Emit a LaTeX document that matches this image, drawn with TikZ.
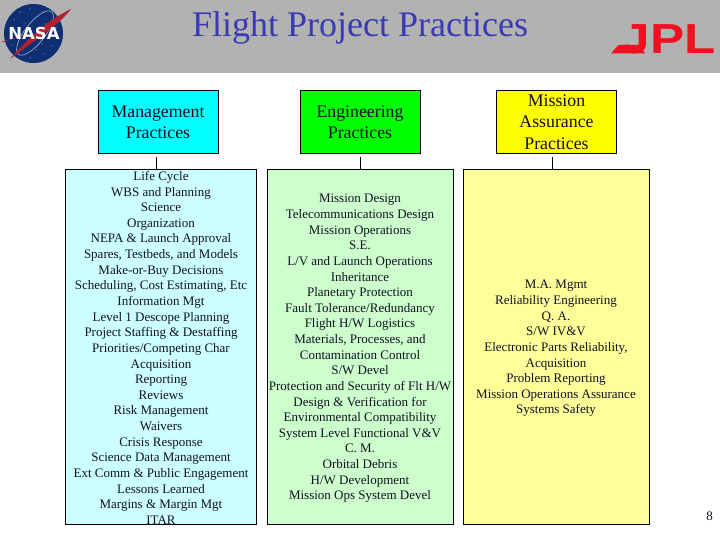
\documentclass[tikz,border=0pt]{standalone}
\usepackage{fontspec}
\setmainfont{Liberation Serif}
\newfontfamily\logofont{DejaVu Sans}
\newfontfamily\jplfont{Liberation Sans}
\definecolor{hdrgray}{HTML}{B2B2B2}
\definecolor{titleblue}{HTML}{3A3AB4}
\definecolor{nasablue}{HTML}{0F2F73}
\definecolor{nasared}{HTML}{B02030}
\definecolor{jplred}{HTML}{EE1122}
\definecolor{headcyan}{HTML}{00FFFF}
\definecolor{headgreen}{HTML}{00FF00}
\definecolor{headyellow}{HTML}{FFFF00}
\definecolor{listcyan}{HTML}{CCFFFF}
\definecolor{listgreen}{HTML}{CCFFCC}
\definecolor{listyellow}{HTML}{FFFF99}
\definecolor{inktext}{HTML}{111122}
\tikzset{
  headbox/.style={draw=black,line width=1pt,minimum width=120pt,minimum height=63pt,inner sep=0pt,align=center,
    font=\fontsize{17.8}{21.3}\selectfont,text=inktext},
  listbox/.style={draw=black,line width=1pt,minimum width=186pt,minimum height=355pt,inner sep=0pt,align=center,
    font=\fontsize{13}{15.63}\selectfont,text=inktext},
  stub/.style={draw=black,line width=1pt}
}
\begin{document}
\begin{tikzpicture}[x=1pt,y=-1pt]
\useasboundingbox (0,0) rectangle (720,540);
\fill[white] (0,0) rectangle (720,540);
\fill[hdrgray] (0,0) rectangle (720,73);
\node[text=titleblue,font=\fontsize{36}{38}\selectfont,inner sep=0pt] (title) at (360,28) {Flight Project Practices};

% NASA logo
\fill[nasablue] (33.5,33.5) circle (29.5);
\foreach \a/\b in {14/20,20/12,30/9,42/12,52/20,56/28,12/45,18/52,30/58,44/54,52/46,24/24,46/24,26/46,42/44,36/50}
  \fill[white!85!nasablue] (\a,\b) circle (0.5);
\draw[white!75!nasablue,line width=0.5pt,rotate around={52:(35,33)}] (35,33) ellipse (27 and 10);
\fill[nasared] (71,9) .. controls (58,26) and (38,38) .. (10,59) .. controls (30,36) and (48,20) .. (71,9) -- cycle;
\draw[nasared,line width=0.6pt] (2,42) -- (24,35);
\node[text=white,font=\logofont\bfseries\fontsize{16.5}{17}\selectfont,inner sep=0pt] (nasa) at (34,33.5) {NASA};

% JPL logo
\node[text=jplred,font=\jplfont\bfseries\fontsize{42}{43}\selectfont,inner sep=0pt,xscale=1.22,anchor=base east] (jpl) at (716,53.5) {JPL};
\fill[jplred] (611,53.5) -- (618.5,45) -- (640,45) -- (645,53.5) -- cycle;

% Heads
\node[headbox,fill=headcyan] (mgmt) at (158,122) {Management\\Practices};
\node[headbox,fill=headgreen] (eng) at (360,122) {Engineering\\Practices};
\node[headbox,fill=headyellow] (ma) at (556.5,122) {Mission\\Assurance\\Practices};

% Lists
\node[listbox,fill=listcyan,minimum width=191.5pt] (l1) at (160.75,347) {};
\node[listbox,fill=listgreen] (l2) at (360,347) {};
\node[listbox,fill=listyellow] (l3) at (556,347) {};
\node[listbox,draw=none,minimum width=0pt,minimum height=0pt] (t1) at (161,347.8) {Life Cycle\\WBS and Planning\\Science\\Organization\\NEPA \& Launch Approval\\Spares, Testbeds, and Models\\Make-or-Buy Decisions\\Scheduling, Cost Estimating, Etc\\Information Mgt\\Level 1 Descope Planning\\Project Staffing \& Destaffing\\Priorities/Competing Char\\Acquisition\\Reporting\\Reviews\\Risk Management\\Waivers\\Crisis Response\\Science Data Management\\Ext Comm \& Public Engagement\\Lessons Learned\\Margins \& Margin Mgt\\ITAR};
\node[listbox,draw=none,minimum width=0pt,minimum height=0pt] (t2) at (360,348.5) {Mission Design\\Telecommunications Design\\Mission Operations\\S.E.\\L/V and Launch Operations\\Inheritance\\Planetary Protection\\Fault Tolerance/Redundancy\\Flight H/W Logistics\\Materials, Processes, and\\Contamination Control\\S/W Devel\\Protection and Security of Flt H/W\\Design \& Verification for\\Environmental Compatibility\\System Level Functional V\&V\\C. M.\\Orbital Debris\\H/W Development\\Mission Ops System Devel};
\node[listbox,draw=none,minimum width=0pt,minimum height=0pt] (t3) at (556,348.5) {M.A. Mgmt\\Reliability Engineering\\Q. A.\\S/W IV\&V\\Electronic Parts Reliability,\\Acquisition\\Problem Reporting\\Mission Operations Assurance\\Systems Safety};

% Connectors
\draw[stub] ([xshift=-1.5pt,yshift=-3pt]mgmt.south) -- ([xshift=-1.5pt]mgmt.south |- l1.north);
\draw[stub] ([yshift=-3pt]eng.south) -- (eng.south |- l2.north);
\draw[stub] ([xshift=-4pt,yshift=-3pt]ma.south) -- ([xshift=-4pt]ma.south |- l3.north);

\node[text=inktext,font=\fontsize{13}{14}\selectfont,inner sep=0pt] (pg) at (709.5,516) {8};
\end{tikzpicture}
\end{document}
